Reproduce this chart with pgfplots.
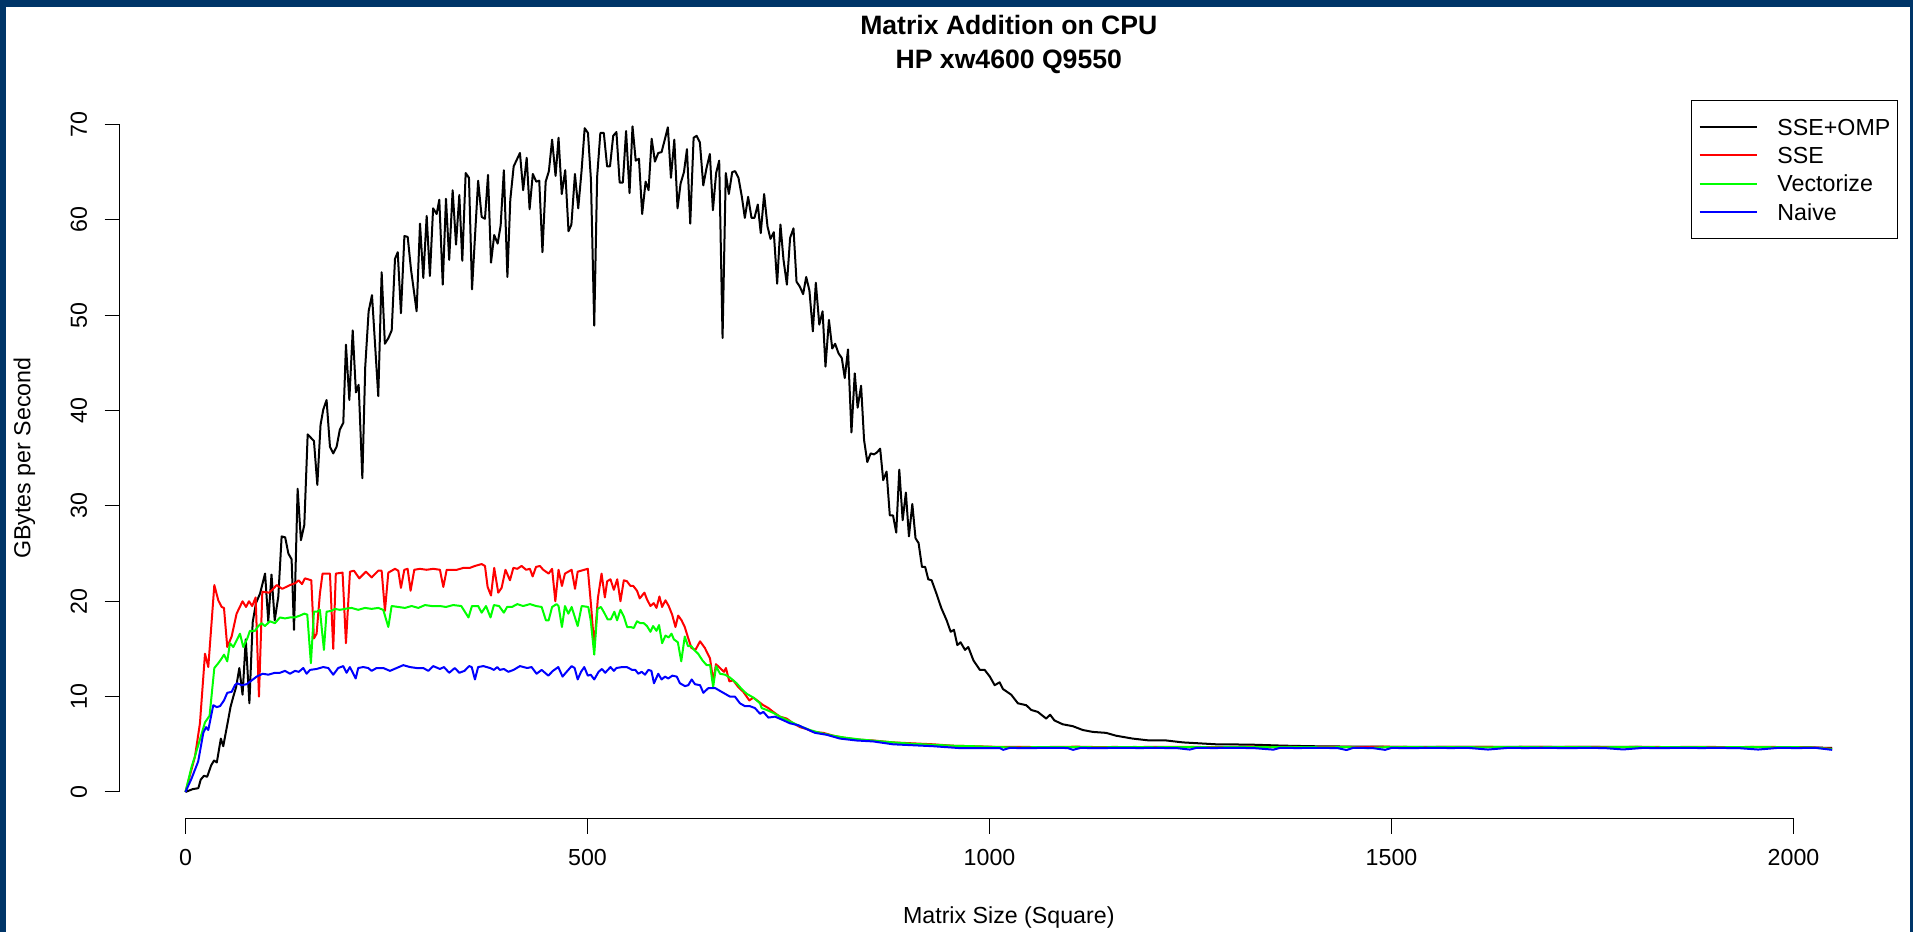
\documentclass[border=0pt]{standalone}
\usepackage{fontspec}
\setmainfont{Liberation Sans}
\usepackage{pgfplots}
\pgfplotsset{compat=1.18}
\definecolor{frameblue}{RGB}{0,53,104}
\definecolor{rgreen}{RGB}{0,255,0}
\definecolor{rred}{RGB}{255,0,0}
\definecolor{rblue}{RGB}{0,0,255}
\newcommand{\rfont}{\fontsize{11.6}{13.9}\selectfont}
\begin{document}
\begin{tikzpicture}
\path[use as bounding box] (0pt,0pt) rectangle (956.5pt,466pt);
\fill[white] (0pt,0pt) rectangle (956.5pt,466pt);
\fill[frameblue] (0pt,462.5pt) rectangle (956.5pt,466pt);
\fill[frameblue] (0pt,0pt) rectangle (3pt,466pt);
\fill[frameblue] (955pt,0pt) rectangle (956.5pt,466pt);
\begin{axis}[
  at={(59.8pt,56.65pt)}, anchor=south west,
  scale only axis, width=889.2pt, height=360.5pt,
  xmin=-81.92, xmax=2129.92, ymin=-2.8, ymax=72.8,
  axis line style={draw=none},
  clip=false,
  xtick={0,500,1000,1500,2000},
  ytick={0,10,20,30,40,50,60,70},
  scaled x ticks=false, scaled y ticks=false,
  tick pos=left,
  tick align=outside,
  major tick length=7.5pt,
  tick style={black, line width=0.5pt},
  /pgf/number format/assume math mode=true,
  /pgf/number format/1000 sep={},
  ticklabel style={font=\rfont, inner sep=0pt},
  xticklabel style={anchor=north},
  yticklabel style={rotate=90, anchor=south},
  xticklabel shift=7.7pt,
  yticklabel shift=8.5pt,
  xlabel={Matrix Size (Square)},
  ylabel={GBytes per Second},
  xlabel style={font=\rfont, at={(axis description cs:0.5,-0.14535)}, anchor=base},
  ylabel style={font=\rfont, at={(axis description cs:-0.05021,0.5)}, anchor=base},
  title={Matrix Addition on CPU\\HP xw4600 Q9550},
  title style={font=\bfseries\fontsize{13.3}{17}\selectfont, align=center, at={(axis description cs:0.5,1.0988)}, anchor=north, inner sep=0pt},
  legend style={at={(axis description cs:1,1)}, anchor=north east, draw=black, line width=0.5pt, fill=white,
    inner xsep=3.6pt, inner ysep=9.2pt, row sep=5.75pt, font=\rfont, yshift=-1pt,
    nodes={inner sep=0pt, text height=8.4pt, text depth=0pt},
    /tikz/every odd column/.append style={column sep=10pt}},
  legend cell align=left,
  legend image code/.code={\path (0pt,0pt) -- (6.4pt,0pt); \draw[#1] (6.4pt,0pt) -- (28.4pt,0pt);},
  every axis plot/.append style={line width=1pt, line join=round, mark=none},
]
% SSE+OMP
\addplot[black] coordinates {
(0,0) (9,0.3) (16,0.4) (19,1.3) (23,1.7) (27,1.6) (32,2.8) (35.5,3.3) (39,3.1) (44,5.6) (47,4.8)
(53,7.5) (56,8.9) (59.5,10.0) (63,11.0) (67,13.0) (71,10.2) (75,16.0) (79.5,9.3) (83.6,17.8) (87.7,19.8)
(92.7,20.8) (99,22.9) (103,17.9) (107,22.8) (111,18.0) (115.5,20.5) (119.6,26.8) (124,26.7) (128,25.0)
(132,24.4) (135,17.0) (139.5,31.8) (143.6,26.4) (147.8,28.0) (152,37.5) (159.8,36.8) (164,32.2) (168,38.5)
(171.4,40.1) (175.5,41.1) (179.7,36.2) (183.8,35.5) (188,36.2) (192,38.0) (196.3,38.7) (199.6,46.9)
(203.8,41.1) (208,48.4) (212,41.9) (215.4,42.7) (220,32.9) (223.6,44.6) (227.8,50.4) (232,52.1) (239.8,41.5)
(244,54.5) (248,47.0) (252.4,47.6) (256.5,48.4) (260.6,55.9) (264,56.6) (268,50.2) (272.3,58.3) (276.4,58.2)
(280.5,54.8) (287.5,50.4) (291.7,59.6) (295.8,53.9) (300,60.4) (304,54.1) (308,61.2) (312.4,60.6) (315.7,62.1)
(320,53.2) (324,62.2) (328,55.8) (332.3,63.1) (336.5,57.4) (340.6,62.6) (344.3,55.7) (348.5,64.9) (352.6,64.4)
(356.4,52.7) (364,64.1) (368.4,60.3) (372.5,60.1) (376.3,64.7) (380,55.5) (384,58.4) (388.3,57.5) (392,59.4)
(396,65.2) (400.4,54.0) (404,62.1) (408.2,65.6) (416,67.0) (420,63.1) (424.4,66.5) (428,61.1) (432,64.8)
(436.3,64.0) (440,64.1) (444,56.6) (448,64.0) (452,65.1) (456,68.4) (460.3,64.6) (464,68.6) (468,62.7)
(472.3,65.2) (476.4,58.8) (480,59.5) (484.4,64.8) (488.5,61.2) (492.6,65.1) (496.5,69.6) (500.6,69.1)
(504.3,64.2) (508.4,48.9) (512,64.5) (516,69.1) (520.3,69.1) (524.4,65.6) (528,65.6) (532,68.8) (536,69.2)
(540,63.9) (544,63.9) (548,69.3) (552.3,62.8) (556,69.8) (560,66.2) (564,66.4) (568,60.6) (572.3,64.0)
(576,63.1) (579.8,68.5) (583.9,66.1) (588,67.0) (592.2,67.1) (600,69.7) (603.8,64.4) (608,68.4) (612,61.2)
(615.8,63.8) (620,65.0) (623.7,67.4) (627.8,59.6) (632,68.6) (635.7,68.8) (639.8,68.1) (644,63.6) (648,65.4)
(652.2,66.9) (656,61.0) (660,64.9) (663.8,66.2) (668,47.6) (672,64.9) (675.8,62.7) (680,65.0) (683.6,65.1)
(687.8,64.4) (692,62.4) (695.7,60.2) (699.8,62.4) (704,60.2) (707.7,60.2) (711.8,61.6) (715.5,58.6)
(719.7,62.7) (723.9,59.3) (727.6,58.0) (731.7,58.7) (735.9,53.3) (740,59.5) (743.8,55.8) (748,53.2)
(752,58.1) (756.2,59.1) (760,53.5) (764,53.0) (768.2,52.2) (772,54.0) (776,52.6) (780.3,48.3) (784,53.4)
(788.3,49.0) (792.4,50.4) (796,44.6) (800.3,49.5) (804.4,46.5) (808,47.0) (812.2,46.0) (816.3,45.5)
(820,43.4) (824,46.4) (828.3,37.7) (832.4,43.9) (836,40.3) (840.3,42.6) (844,36.9) (848,34.6) (852.2,35.5)
(856.3,35.4) (860,35.6) (864,36.0) (867.8,32.7) (872,33.6) (876,29.0) (880,29.0) (884,27.2) (887.8,33.8)
(892,28.5) (896,31.4) (899.8,26.8) (904,30.2) (908,26.6) (911.8,26.1) (916,23.6) (920,23.6) (923.8,22.3)
(928,22.2) (934,20.8) (940,19.3) (946.7,18.0) (951.7,16.8) (955.8,17.0) (960,15.4) (964,15.7) (969.5,14.9)
(973.6,15.2) (980,13.8) (988,12.8) (994,12.8) (1000.4,12.1) (1006.4,11.2) (1012.6,11.5) (1016.7,10.8)
(1027,10.2) (1035.3,9.3) (1045.7,9.1) (1052,8.6) (1060,8.4) (1070.5,7.7) (1075.4,8.1) (1080.8,7.5)
(1091,7.1) (1103.6,6.9) (1116,6.5) (1128.4,6.3) (1145,6.2) (1157.5,5.9) (1178,5.6) (1199,5.4) (1220,5.4)
(1240.5,5.2) (1282,5.0) (1323.6,4.97) (1365,4.86) (1400,4.8) (1448,4.76) (1500,4.74) (1600,4.72)
(1700,4.72) (1800,4.72) (1900,4.70) (2000,4.70) (2048,4.62)
};
\addlegendentry{SSE+OMP}
% SSE
\addplot[rred] coordinates {
(0,0) (11.8,3.7) (18,7.2) (24.3,14.5) (28.4,13.1) (35.9,21.7) (40.8,20.1) (45,19.4) (47.9,19.3) (52,15.2)
(57.4,16.3) (63.6,18.7) (71,20.0) (75.3,19.4) (79,20.0) (83,19.5) (87.3,20.4) (91.4,10.0) (95.6,21.0)
(103.8,20.9) (108,21.2) (113.4,21.7) (120.4,21.3) (130,21.7) (136.6,21.9) (140.7,22.2) (144.9,21.8)
(148.6,22.4) (156.5,22.2) (159.8,16.1) (163.1,16.6) (167.2,20.8) (170.5,22.9) (179.7,22.9) (183.8,15.0)
(187,22.9) (195.4,23.0) (199.6,15.6) (204.6,23.1) (209.6,23.2) (216.2,22.4) (224.5,23.1) (231.6,22.5)
(239.8,23.2) (244,23.2) (248.1,19.0) (252.3,23.0) (260.6,23.4) (264.7,23.2) (268,21.4) (272.2,23.3)
(276.3,23.4) (280,21.1) (284.6,23.3) (291.6,23.4) (299.9,23.3) (308.2,23.4) (316.5,23.3) (320.7,21.5)
(324.9,23.3) (331,23.3) (337.5,23.3) (345.8,23.5) (353.8,23.5) (360,23.7) (368.4,23.9) (372.5,23.7)
(375.8,21.5) (380,20.6) (384,23.5) (389,20.9) (393.2,21.4) (398,23.3) (403.6,22.2) (407.8,23.5)
(412.7,23.4) (418,23.7) (423.7,23.3) (428.4,23.4) (431.8,22.6) (436,23.6) (440.8,23.7) (445,23.3)
(451.7,22.9) (456,23.4) (460,20.0) (464,23.3) (468.2,21.6) (472,22.9) (480.3,23.3) (484.5,21.3)
(487.8,23.1) (496,23.3) (500.4,23.4) (504.5,19.5) (508.4,15.2) (512.9,20.3) (517.5,22.9) (521.6,20.4)
(524.5,22.1) (528.6,22.3) (532.8,21.2) (537,22.3) (541,20.0) (545.2,22.2) (549,22.1) (553.5,21.6)
(557,21.6) (561.6,21.1) (565,20.3) (570.8,20.9) (574,20.2) (578.3,19.5) (582.4,19.8) (585.8,19.3)
(589.5,20.5) (592.8,19.4) (597,20.1) (601,19.5) (605.3,18.6) (609.4,17.3) (612.8,18.5) (617,18.0)
(621,17.3) (625,16.2) (629.3,15.1) (634.3,14.9) (640,15.8) (646,15.1) (652.4,14.0) (656.5,11.6)
(659.8,13.4) (664.8,13.0) (669.8,12.6) (672.2,13.0) (676.4,11.6) (681.3,11.7) (687.6,11.0) (693.8,10.5)
(701.3,9.6) (706.3,9.9) (712.5,9.5) (718.7,9.1) (725,8.8) (731,8.4) (739.4,7.9) (747.7,7.7) (756,7.2)
(764.3,6.8) (772.6,6.6) (780.8,6.3) (793.3,6.2) (805.7,5.9) (818,5.7) (834.7,5.5) (855.4,5.4) (880,5.2)
(905,5.1) (930,5.0) (955,4.85) (980,4.8) (1013,4.72) (1037,4.74) (1061,4.70) (1085,4.73) (1109,4.75)
(1133,4.71) (1157,4.72) (1181,4.70) (1205,4.74) (1229,4.72) (1253,4.73) (1277,4.70) (1301,4.72)
(1325,4.75) (1349,4.71) (1373,4.73) (1397,4.70) (1421,4.74) (1445,4.72) (1469,4.71) (1493,4.75)
(1517,4.72) (1541,4.70) (1565,4.73) (1589,4.72) (1613,4.74) (1637,4.70) (1661,4.72) (1685,4.73)
(1709,4.71) (1733,4.74) (1757,4.72) (1781,4.70) (1805,4.73) (1829,4.72) (1853,4.71) (1877,4.74)
(1901,4.72) (1925,4.70) (1949,4.73) (1973,4.72) (1997,4.71) (2021,4.70) (2048,4.55)
};
\addlegendentry{SSE}
% Vectorize
\addplot[rgreen] coordinates {
(0,0) (7.5,2.6) (12,3.8) (18,5.5) (24.3,7.3) (30,8.0) (35.9,13.0) (40.8,13.5) (45,14.0) (47.9,14.4)
(52,13.7) (55.3,15.6) (59.5,15.2) (63.6,15.9) (67.8,16.6) (71.9,15.2) (76.9,16.1) (80.2,16.9) (86.4,16.9)
(90.6,17.4) (94.7,17.7) (98.9,17.4) (105,17.9) (111.3,17.7) (117.5,18.3) (123.8,18.2) (130,18.3) (136,18.3)
(142.4,18.5) (147.8,18.7) (151.5,18.6) (156,13.5) (159.8,18.9) (163.5,18.9) (167.2,19.1) (172.2,14.9)
(175.5,18.9) (181.7,19.0) (185.9,19.2) (192,19.1) (198.3,19.2) (206.6,19.3) (214.9,19.1) (223.2,19.3)
(231.5,19.2) (239.8,19.3) (246,19.1) (252.3,17.3) (256.4,19.5) (264.7,19.4) (273,19.3) (281.3,19.5)
(289.6,19.3) (297.9,19.6) (306.2,19.5) (316.5,19.5) (324,19.4) (333,19.6) (343,19.5) (352,18.3)
(356.3,19.5) (364,19.5) (368.4,18.8) (373.8,19.5) (379.4,18.3) (383.6,19.6) (390,19.5) (396,18.8)
(400,19.4) (406,19.4) (412.7,19.7) (420,19.5) (428.5,19.7) (436,19.5) (443,19.4) (448.3,18.0)
(451.7,18.0) (456,19.4) (461.5,19.7) (464,19.5) (468.2,17.3) (472,19.5) (476.2,18.7) (480.3,19.4)
(487.8,17.4) (492.8,19.5) (501,19.4) (504,18.0) (508.4,14.4) (512.5,19.2) (516.7,19.4) (520.8,18.8)
(525,18.1) (529,18.1) (533.4,18.9) (536.8,18.0) (541,19.1) (545.2,18.4) (549.3,17.3) (553.5,17.3)
(557.6,17.2) (561.6,17.9) (565.8,17.7) (570,17.7) (574,17.4) (578.3,16.8) (581.6,17.4) (585.8,16.9)
(589,17.5) (592.8,15.6) (597,16.4) (601,16.2) (604.5,16.6) (607.5,16.0) (612.4,15.7) (616.6,13.7)
(621,16.3) (625,15.3) (629,15.3) (632.6,14.9) (637.6,14.5) (643,13.8) (648.2,13.3) (652.5,13.3)
(656.3,11.0) (660,13.2) (664.8,12.4) (671,12.3) (677.2,12.0) (685.5,11.4) (691.7,10.8) (698,10.3)
(706.3,9.9) (714.6,9.3) (716.6,8.8) (722.9,8.6) (731,8.3) (739.4,7.9) (751.9,7.4) (764.3,6.9)
(776.7,6.5) (789.2,6.2) (805.7,5.9) (820,5.7) (840,5.5) (860,5.35) (880,5.2) (905,5.05) (930,4.95)
(955,4.85) (980,4.8) (1013,4.70) (1037,4.66) (1061,4.71) (1085,4.70) (1109,4.72) (1133,4.68)
(1157,4.70) (1181,4.72) (1205,4.69) (1229,4.70) (1253,4.72) (1277,4.68) (1301,4.70) (1325,4.71)
(1349,4.69) (1373,4.72) (1397,4.70) (1421,4.68) (1445,4.71) (1469,4.60) (1493,4.70) (1517,4.72)
(1541,4.69) (1565,4.70) (1589,4.71) (1613,4.68) (1637,4.70) (1661,4.72) (1685,4.69) (1709,4.70)
(1733,4.71) (1757,4.68) (1781,4.70) (1805,4.72) (1829,4.69) (1853,4.70) (1877,4.71) (1901,4.68)
(1925,4.70) (1949,4.72) (1973,4.69) (1997,4.70) (2021,4.68) (2048,4.5)
};
\addlegendentry{Vectorize}
% Naive
\addplot[rblue] coordinates {
(0,0) (7.5,1.4) (15.8,3.2) (22.2,6.2) (25.6,6.8) (28.4,6.5) (34.6,9.1) (38.8,8.9) (43,9.0) (47.9,9.6)
(52,10.4) (57.4,10.5) (61.5,11.2) (64.5,11.4) (69.9,11.2) (76.1,11.3) (82.3,11.7) (88.6,12.1) (96,12.4)
(103,12.3) (111.3,12.5) (117.5,12.5) (123.8,12.7) (130,12.4) (136.3,12.7) (141,12.6) (146.5,13.0)
(150.7,12.4) (154.9,12.8) (163.1,12.9) (171.4,13.1) (177.6,13.0) (183.8,12.3) (190,13.0) (196.3,13.2)
(200.4,12.5) (204.5,13.1) (211.7,11.9) (214.9,13.0) (221,13.1) (227.3,13.0) (231.5,12.7) (237.7,13.0)
(246,13.0) (254.3,12.7) (262.6,13.0) (270.9,13.3) (279.2,13.1) (287.5,13.0) (295.8,13.0) (302,12.7)
(308.2,13.2) (316.5,12.9) (321.5,13.1) (328,12.5) (335,13.0) (340.6,12.5) (347,12.7) (352.9,13.2)
(356,13.1) (360,11.8) (364,13.1) (370.5,13.2) (378.8,13.0) (383.6,12.8) (387.8,13.1) (391,12.8)
(396,12.9) (401.6,12.6) (408,12.8) (416,13.2) (425,13.0) (430.5,13.1) (436.7,12.4) (443,12.8)
(451.3,12.2) (457,12.7) (463.7,13.1) (469,12.1) (473,12.5) (480.3,13.2) (484,13.0) (487.8,11.8)
(492,12.6) (496,13.1) (500.4,12.2) (504,12.3) (508.4,11.8) (513.8,12.6) (518,12.9) (522,12.5)
(528.6,13.1) (532.8,12.7) (536,13.0) (543,13.1) (549,13.1) (555.6,12.8) (559.5,12.8) (563.2,12.4)
(567.4,12.6) (571.6,12.3) (575.7,12.8) (579.5,12.7) (582.7,11.4) (588,12.4) (592.2,11.8) (596.4,12.1)
(600.5,11.9) (605.5,12.2) (611,12.1) (615,11.4) (621.3,11.1) (625.4,11.2) (629.6,11.8) (633.7,11.3)
(640,11.2) (644.1,10.4) (650.4,10.9) (658.7,10.9) (664.8,10.6) (671,10.3) (677.2,10.0) (683.4,10.0)
(689.6,9.3) (695.8,9.0) (702,9.0) (708.3,8.8) (714.6,8.2) (718.8,8.4) (725,7.8) (733.3,7.9) (741.5,7.6)
(751.9,7.2) (762.2,7.0) (772.6,6.6) (783,6.2) (797.5,6.0) (814,5.6) (834.7,5.4) (855.4,5.3) (880,5.0)
(905,4.9) (930,4.8) (963.4,4.6) (988,4.6) (1013,4.6) (1017,4.42) (1025,4.62) (1049,4.60) (1073,4.63)
(1097,4.61) (1104,4.42) (1113,4.62) (1137,4.60) (1161,4.63) (1185,4.61) (1209,4.62) (1233,4.60)
(1249,4.45) (1257,4.62) (1281,4.61) (1305,4.63) (1329,4.60) (1353,4.44) (1361,4.62) (1385,4.61)
(1409,4.63) (1433,4.60) (1444,4.40) (1452,4.62) (1476,4.61) (1492,4.42) (1500,4.62) (1524,4.60)
(1548,4.63) (1572,4.61) (1596,4.62) (1620,4.45) (1644,4.62) (1668,4.61) (1692,4.63) (1716,4.60)
(1740,4.62) (1764,4.61) (1788,4.46) (1812,4.62) (1836,4.60) (1860,4.63) (1884,4.61) (1908,4.62)
(1932,4.60) (1956,4.45) (1980,4.62) (2004,4.61) (2028,4.62) (2048,4.42)
};
\addlegendentry{Naive}
\draw[line width=0.5pt] (axis cs:0,-2.8) -- (axis cs:2000,-2.8);
\draw[line width=0.5pt] (axis cs:-81.92,0) -- (axis cs:-81.92,70);
\end{axis}
\end{tikzpicture}
\end{document}
